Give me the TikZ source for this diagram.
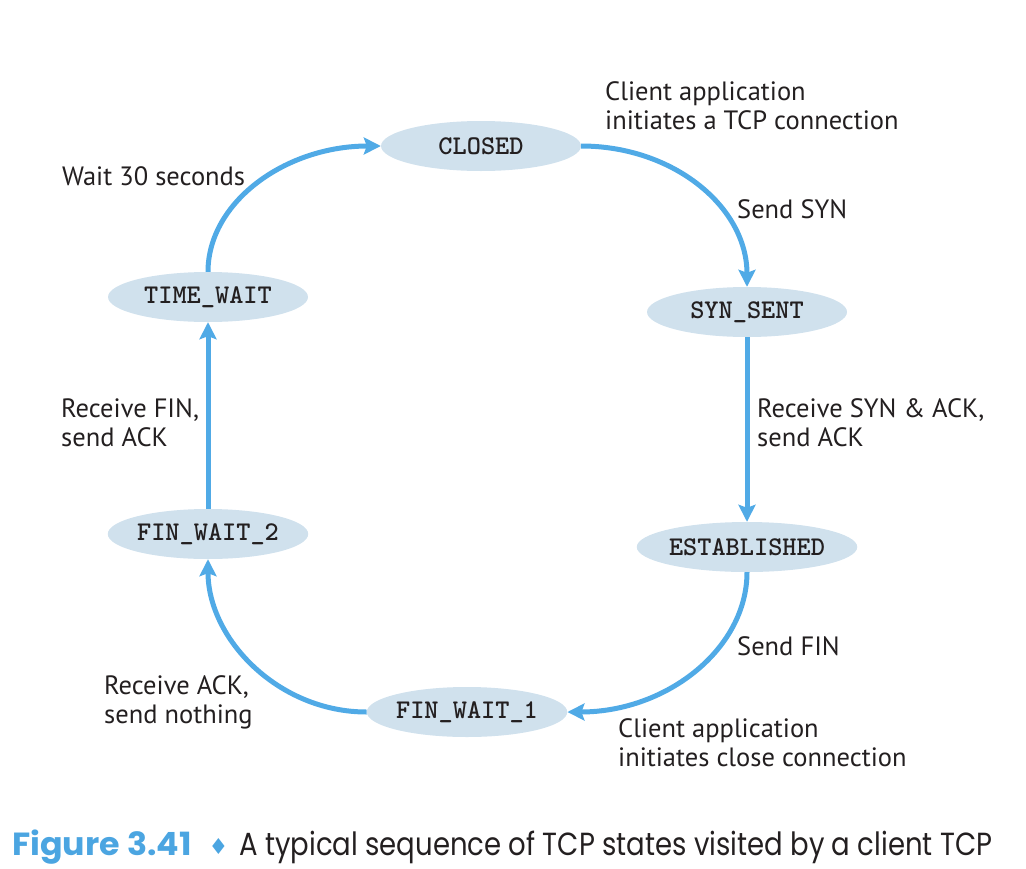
\documentclass[tikz,border=0pt]{standalone}
\usepackage{fontspec}
\usetikzlibrary{shapes.geometric,arrows.meta}
\newfontfamily\lblfont{PT Sans}
\newfontfamily\capfont{Poppins}[FakeStretch=0.86]
\newfontfamily\capbold{Poppins Bold}[FakeStretch=1.04]
\newfontfamily\symfont{DejaVu Sans}
\definecolor{ellfill}{RGB}{208,225,237}
\definecolor{arrowblue}{RGB}{80,170,230}
\definecolor{capblue}{RGB}{75,165,225}
\definecolor{txt}{RGB}{35,31,32}
\tikzset{
  state/.style={ellipse, fill=ellfill, minimum width=200pt, minimum height=50pt, inner sep=0pt,
    font=\ttfamily\bfseries\fontsize{27}{29}\selectfont, text=txt},
  lbl/.style={anchor=base west, align=left, inner sep=0pt, text=txt,
    font=\lblfont\fontsize{26.5}{29}\selectfont},
  trans/.style={draw=arrowblue, line width=5pt, -{Stealth[length=17pt,width=17pt,inset=3pt]}}
}
\begin{document}
\begin{tikzpicture}[x=1pt,y=-1pt]
\useasboundingbox (0,0) rectangle (1026,868);
\node[state] (closed) at (481,146) {CLOSED};
\node[state] (synsent) at (747,312) {SYN\_SENT};
\node[state] (est) at (747,547) {ESTABLISHED};
\node[state] (fw1) at (467,712) {FIN\_WAIT\_1};
\node[state] (fw2) at (208,534) {FIN\_WAIT\_2};
\node[state] (tw) at (208,297) {TIME\_WAIT};

\draw[trans] (closed.east) .. controls +(92,0) and +(0,-80) .. (synsent.north);
\draw[trans] (synsent.south) -- (est.north);
\draw[trans] (est.south) .. controls +(0,76) and +(100,0) .. (fw1.east);
\draw[trans] (fw1.west) .. controls +(-88,0) and +(0,80) .. (fw2.south);
\draw[trans] (fw2.north) -- (tw.south);
\draw[trans] (tw.north) .. controls +(0,-70) and +(-95,0) .. (closed.west);

\node[lbl] (l1) at (605,129) {Client application\\initiates a TCP connection};
\node[lbl] (l2) at (737,218) {Send SYN};
\node[lbl] (l3) at (62,185) {Wait 30 seconds};
\node[lbl] (l4) at (757,446) {Receive SYN \& ACK,\\send ACK};
\node[lbl] (l5) at (61,446) {Receive FIN,\\send ACK};
\node[lbl] (l6) at (737,655) {Send FIN};
\node[lbl] (l7) at (104,723) {Receive ACK,\\send nothing};
\node[lbl] (l8) at (618,766) {Client application\\initiates close connection};

\node[anchor=base west, inner sep=0pt] (cap) at (12,855)
  {{\capbold\fontsize{32}{36}\selectfont\color{capblue}Figure 3.41}\hspace{17pt}{\symfont\fontsize{22}{24}\selectfont\color{capblue}\raisebox{1pt}{♦}}\hspace{11pt}{\capfont\fontsize{32}{36}\selectfont\color{txt}A typical sequence of TCP states visited by a client TCP}};
\end{tikzpicture}
\end{document}
